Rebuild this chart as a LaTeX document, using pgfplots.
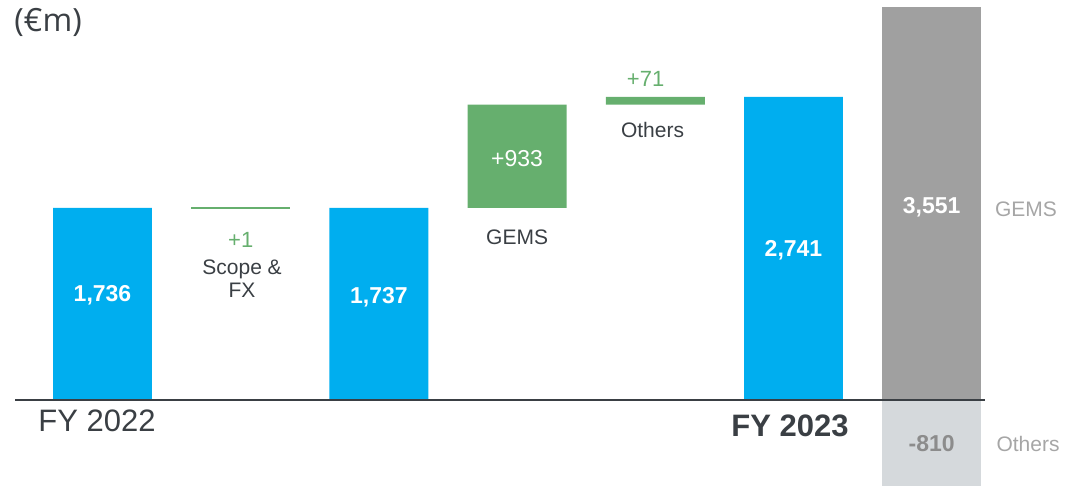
\documentclass[border=0pt]{standalone}
\usepackage{fontspec}
\setmainfont{Liberation Sans}
\newfontfamily\unitfont{Open Sans}
\usepackage{pgfplots}
\pgfplotsset{compat=1.18}
\definecolor{barBlue}{HTML}{00AEEF}
\definecolor{gainGreen}{HTML}{66AF6E}
\definecolor{gemsGray}{HTML}{A0A0A0}
\definecolor{othGray}{HTML}{D5D9DC}
\definecolor{txtDark}{HTML}{3A3F44}
\definecolor{txtGray}{HTML}{A6A6A6}
\definecolor{txtMid}{HTML}{8C8C8C}

\pgfplotsset{frame/.style={
    at={(0,0)}, anchor=south west,
    scale only axis, width=1066pt, height=485pt,
    xmin=-0.7417, xmax=6.972, ymin=-768, ymax=3616,
    hide axis, bar width=0.716,
}}

\begin{document}
\begin{tikzpicture}
% waterfall: invisible base + visible parts
\begin{axis}[frame, ybar stacked]
\addplot[draw=none, fill=none] coordinates {(0,0)(1,1736)(2,0)(3,1737)(4,2670)(5,0)};
\addplot[draw=none, fill=barBlue] coordinates {(0,1736)(1,0)(2,1737)(3,0)(4,0)(5,2741)};
\addplot[draw=none, fill=gainGreen] coordinates {(0,0)(1,0)(2,0)(3,933)(4,71)(5,0)};
\end{axis}

% split of the change, labels, baseline
\begin{axis}[frame, ybar, bar shift=0pt, clip mode=individual]
\addplot[draw=none, fill=gemsGray] coordinates {(6,3551)};
\addplot[draw=none, fill=othGray] coordinates {(6,-810)};
\addplot[sharp plot, draw=gainGreen, fill=none, line width=1.3pt] coordinates {(0.642,1736.5)(1.358,1736.5)};
\addplot[sharp plot, draw=txtDark, fill=none, line width=2pt] coordinates {(-0.633,0)(6.386,0)};

\node[font=\bfseries\fontsize{23}{25}\selectfont, text=white] at (axis cs:0,949) {1,736};
\node[font=\bfseries\fontsize{23}{25}\selectfont, text=white] at (axis cs:2,931) {1,737};
\node[font=\bfseries\fontsize{23}{25}\selectfont, text=white] at (axis cs:5,1356) {2,741};
\node[font=\bfseries\fontsize{23}{25}\selectfont, text=white] at (axis cs:6,1745) {3,551};
\node[font=\bfseries\fontsize{23}{25}\selectfont, text=txtMid] at (axis cs:6,-398) {-810};

\node[font=\fontsize{22}{24}\selectfont, text=gainGreen] at (axis cs:1,1446) {+1};
\node[font=\fontsize{21}{23}\selectfont, text=txtDark, align=center] at (axis cs:1.01,1094) {Scope \&\\FX};
\node[font=\fontsize{23}{25}\selectfont, text=white] at (axis cs:3,2179) {+933};
\node[font=\fontsize{21}{23}\selectfont, text=txtDark] at (axis cs:3,1473) {GEMS};
\node[font=\fontsize{22}{24}\selectfont, text=gainGreen] at (axis cs:3.93,2902) {+71};
\node[font=\fontsize{21}{23}\selectfont, text=txtDark] at (axis cs:3.98,2441) {Others};
\node[font=\fontsize{21}{23}\selectfont, text=txtGray] at (axis cs:6.682,1727) {GEMS};
\node[font=\fontsize{21}{23}\selectfont, text=txtGray] at (axis cs:6.697,-398) {Others};

\node[font=\fontsize{31}{33}\selectfont, text=txtDark] at (axis cs:-0.04,-190) {FY 2022};
\node[font=\bfseries\fontsize{31}{33}\selectfont, text=txtDark] at (axis cs:4.975,-235) {FY 2023};
\node[font=\unitfont\fontsize{32}{34}\selectfont, text=txtDark] at (axis cs:-0.394,3417) {(€m)};
\end{axis}
\pgfresetboundingbox
\path[use as bounding box] (0,0) rectangle (1066pt,485pt);
\end{tikzpicture}
\end{document}
